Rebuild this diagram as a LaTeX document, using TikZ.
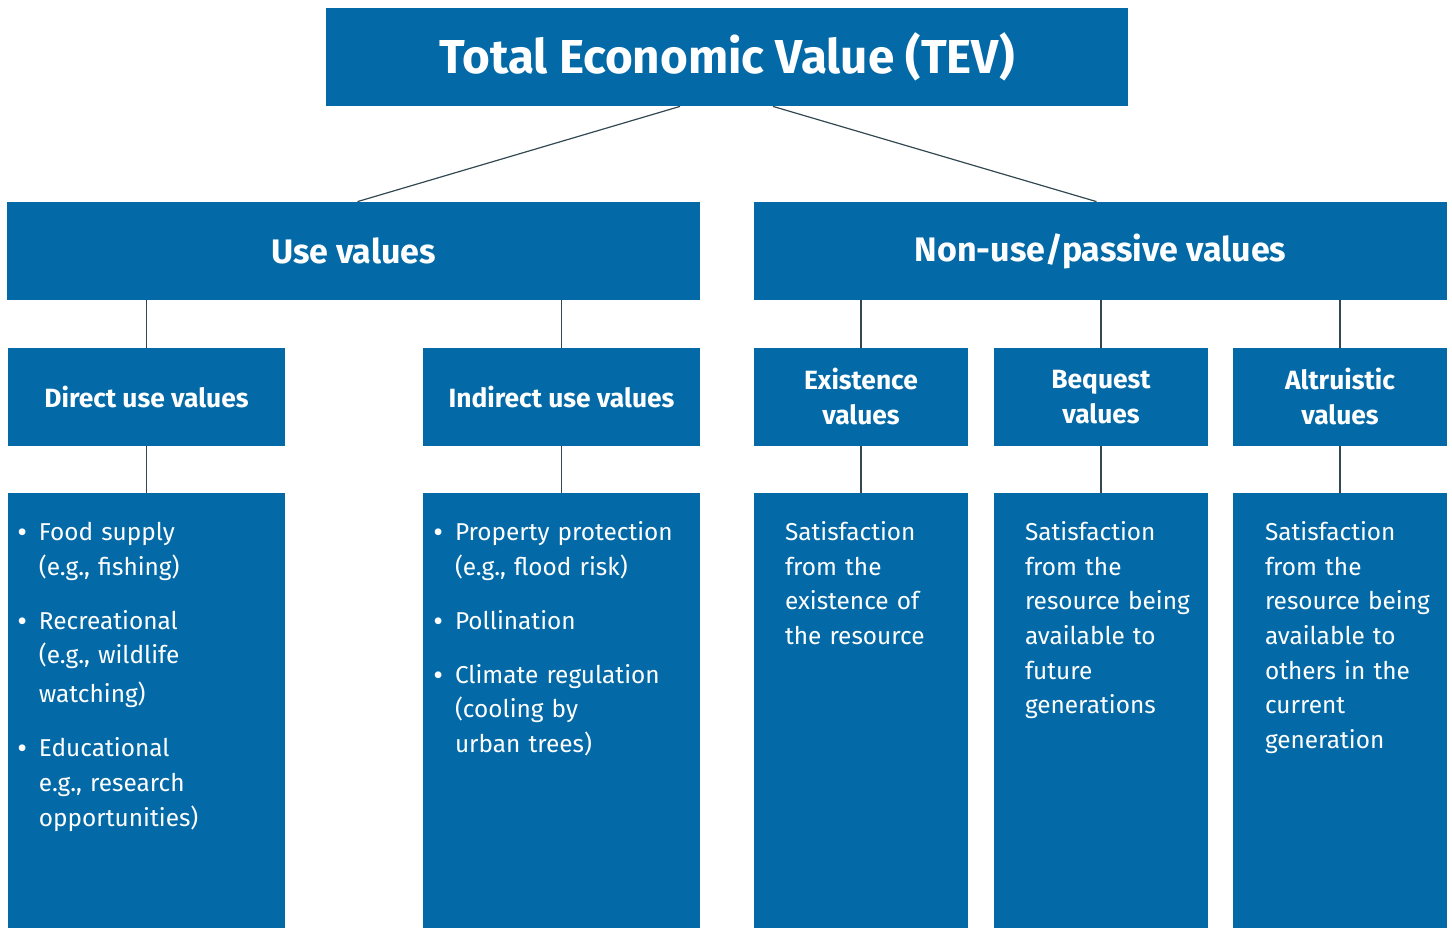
\documentclass[tikz,border=0pt]{standalone}
\usepackage{fontspec}
\setmainfont{Fira Sans}
\usetikzlibrary{positioning}

\definecolor{tevblue}{RGB}{3,106,167}
\definecolor{linkgrey}{RGB}{50,72,82}

\newcommand{\bul}{\noindent\llap{\raisebox{-0.9pt}{\fontsize{15}{15}\selectfont\textbullet}\hspace{6pt}}}

\tikzset{
    box/.style={fill=tevblue, text=white, inner sep=0pt, align=center},
    headbox/.style={box, minimum width=401pt, minimum height=49pt,
        font=\bfseries\fontsize{23.8}{28}\selectfont},
    groupbox/.style={box, minimum width=346.5pt, minimum height=49pt,
        font=\bfseries\fontsize{17}{21}\selectfont},
    titlebox/.style={box, minimum width=#1, minimum height=49pt,
        font=\bfseries\fontsize{13.2}{17.5}\selectfont},
    bodybox/.style={fill=tevblue, inner sep=0pt, minimum width=#1, minimum height=217.5pt},
    bodytext/.style={text=white, inner sep=0pt, text width=135pt, align=left,
        anchor=base west, font=\fontsize{12.2}{17.3}\selectfont},
    link/.style={draw=linkgrey, line width=0.6pt},
}

\begin{document}
\begin{tikzpicture}[x=0.5pt, y=-0.5pt]

    \useasboundingbox (0,0) rectangle (1452,928);

    % ==========================================
    % TOP: total value and the two groups
    % ==========================================

    \node[headbox]  (tev)    at (727,57)    {Total Economic Value (TEV)};
    \node[groupbox] (use)    at (353.5,251) {Use values};
    \node[groupbox] (nonuse) at (1100.5,251) {Non-use/passive values};

    % ==========================================
    % MIDDLE: value categories
    % ==========================================

    \node[titlebox=138.5pt] (direct)   at (146.5,397) {Direct use values};
    \node[titlebox=138.5pt] (indirect) at (561.5,397) {Indirect use values};
    \node[titlebox=107pt]   (exist)    at (861,397)   {Existence\\values};
    \node[titlebox=107pt]   (bequest)  at (1101,397)  {Bequest\\values};
    \node[titlebox=107pt]   (altru)    at (1340,397)  {Altruistic\\values};

    % ==========================================
    % BOTTOM: description panels
    % ==========================================

    \node[bodybox=138.5pt] (directbody)   at (146.5,710.5) {};
    \node[bodybox=138.5pt] (indirectbody) at (561.5,710.5) {};
    \node[bodybox=107pt]   (existbody)    at (861,710.5)   {};
    \node[bodybox=107pt]   (bequestbody)  at (1101,710.5)  {};
    \node[bodybox=107pt]   (altrubody)    at (1340,710.5)  {};

    % Panel texts (first baseline 24pt below the panel top)
    \node[bodytext] (directtext) at ([xshift=15.5pt, yshift=-24pt]directbody.north west)
        {\bul Food supply\\(e.g., fishing)\\[9.7pt]
         \bul Recreational\\(e.g., wildlife\\[2.2pt]watching)\\[9.7pt]
         \bul Educational\\e.g., research\\opportunities)};
    \node[bodytext] (indirecttext) at ([xshift=16pt, yshift=-24pt]indirectbody.north west)
        {\bul Property protection\\(e.g., flood risk)\\[9.7pt]
         \bul Pollination\\[9.7pt]
         \bul Climate regulation\\(cooling by\\urban trees)};
    \node[bodytext] (existtext) at ([xshift=15.5pt, yshift=-24pt]existbody.north west)
        {Satisfaction\\from the\\existence of\\the resource};
    \node[bodytext] (bequesttext) at ([xshift=15.5pt, yshift=-24pt]bequestbody.north west)
        {Satisfaction\\from the\\resource being\\available to\\future\\generations};
    \node[bodytext] (altrutext) at ([xshift=16pt, yshift=-24pt]altrubody.north west)
        {Satisfaction\\from the\\resource being\\available to\\others in the\\current\\generation};

    % ==========================================
    % CONNECTORS
    % ==========================================

    % Total value splits into the two groups
    \draw[link] ([xshift=-23.5pt]tev.south) -- ([xshift=2pt]use.north);
    \draw[link] ([xshift=23pt]tev.south) -- ([xshift=-2pt]nonuse.north);

    % Groups down to their categories
    \draw[link] (use.south -| direct.north) -- (direct.north);
    \draw[link] (use.south -| indirect.north) -- (indirect.north);
    \draw[link] (nonuse.south -| exist.north) -- (exist.north);
    \draw[link] (nonuse.south -| bequest.north) -- (bequest.north);
    \draw[link] (nonuse.south -| altru.north) -- (altru.north);

    % Categories down to their panels
    \draw[link] (direct.south) -- (directbody.north);
    \draw[link] (indirect.south) -- (indirectbody.north);
    \draw[link] (exist.south) -- (existbody.north);
    \draw[link] (bequest.south) -- (bequestbody.north);
    \draw[link] (altru.south) -- (altrubody.north);

\end{tikzpicture}
\end{document}
